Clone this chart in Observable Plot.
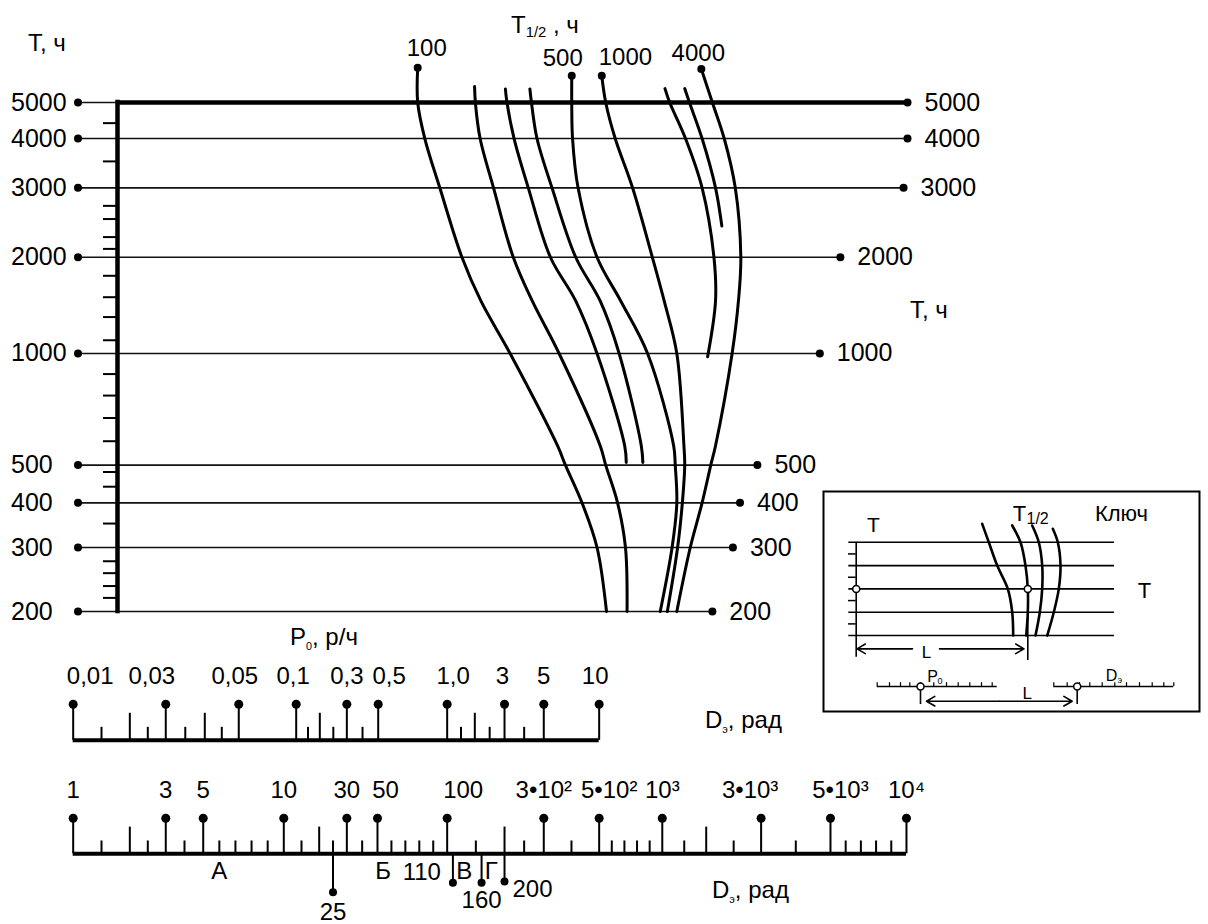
<!DOCTYPE html>
<html>
<head>
<meta charset="utf-8">
<script src="https://cdn.jsdelivr.net/npm/d3@7"></script>
<script src="https://cdn.jsdelivr.net/npm/@observablehq/plot@0.6"></script>
<style>
  body { margin: 0; background: #fff; }
  #wrap { position: relative; width: 1208px; height: 924px; background: #fff; overflow: hidden;
          font-family: Arial, "Liberation Sans", Helvetica, sans-serif; color: #000; }
  #wrap svg { position: absolute; }
  .lab { position: absolute; font-size: 24px; line-height: 1; white-space: nowrap; transform: translateY(-50%); }
  .lab sub { font-size: 62%; vertical-align: -0.3em; line-height: 0; }
  .lab sub.tiny { font-size: 45%; vertical-align: -0.45em; }
</style>
</head>
<body>
<div id="wrap"></div>
<script>
// ===================== DATA =====================
// T scale, hours: the horizontal lines of the nomogram
const tValues = [5000, 4000, 3000, 2000, 1000, 500, 400, 300, 200];
// height of every T line above the 200 line along the T axis, mm (graduation of the T scale)
const tHeightMM = [64.43, 59.87, 53.63, 44.84, 32.66, 18.53, 13.76, 8.10, 0];
// right end of every T line, L in mm measured from the left T axis
const tRightL = [100, 100, 99.5, 91.5, 88.9, 81.0, 78.8, 77.9, 75.3];
// left T scale (dots) lies at this L
const leftScaleL = -5;
// unlabeled graduation marks of the left T axis
const tMinor = [4400, 3500, 2700, 2500, 2250, 2100, 1750, 1500, 1300, 1100, 880, 770, 670, 580, 480, 440, 350, 275, 255, 235, 218];

// T1/2 curves: [T, L] pairs (label "" = unlabeled curve)
const curveLabels = ["100", "", "", "", "500", "1000", "", "", "4000"];
const curve1 = [[6200,38.0],[5000,38.0],[4000,38.9],[3000,40.8],[2000,43.6],[1460,46.0],[1000,49.7],[564,55.7],[500,56.7],[400,58.8],[300,60.7],[200,61.9]];
const curve2 = [[5520,45.2],[5000,45.3],[4000,45.9],[3000,47.6],[2000,50.1],[1460,52.5],[1000,55.9],[564,61.1],[500,61.8],[400,63.3],[300,64.3],[200,64.5]];
const curve3 = [[5440,49.1],[5000,49.3],[4000,50.2],[3000,52.0],[2000,54.8],[1460,58.0],[1000,60.7],[564,64.2],[508,64.4]];
const curve4 = [[5440,52.2],[5000,52.4],[4000,53.1],[3000,55.0],[2000,58.0],[1460,61.1],[1000,63.5],[564,66.3],[508,66.5]];
const curve5 = [[5900,57.5],[5000,57.5],[4000,57.6],[3000,58.3],[2000,60.7],[1460,63.7],[1000,67.1],[564,70.4],[500,70.6],[400,70.8],[300,70.2],[200,68.7]];
const curve6 = [[5900,61.3],[5000,61.8],[4000,63.0],[3000,65.2],[2000,67.7],[1460,69.2],[1000,70.8],[564,71.7],[500,71.8],[400,71.5],[300,70.9],[200,69.6]];
const curve7 = [[5450,69.3],[5000,69.9],[4000,71.9],[3000,74.0],[2000,75.5],[1460,75.7],[980,74.7]];
const curve8 = [[5450,71.8],[5000,72.4],[4000,74.0],[3000,75.7],[2400,76.5]];
const curve9 = [[6150,73.9],[5000,75.3],[4000,76.8],[3000,78.2],[2000,78.9],[1460,78.6],[1000,77.8],[564,75.7],[500,75.1],[400,74.0],[300,72.5],[200,70.8]];

// P0 scale (р/ч): graduation knots and their L
const p0Knots = [0.01, 0.02, 0.03, 0.04, 0.05, 0.1, 0.2, 0.3, 0.5, 1, 2, 3, 5, 10];
const p0KnotL = [-5.61, 1.56, 6.11, 11.05, 15.35, 22.62, 25.61, 29.03, 33.0, 41.73, 45.23, 48.99, 53.96, 60.97];
const p0Major = [0.01, 0.03, 0.05, 0.1, 0.3, 0.5, 1, 3, 5, 10];
const p0MajorLabels = ["0,01", "0,03", "0,05", "0,1", "0,3", "0,5", "1,0", "3", "5", "10"];
const p0Long = [0.02, 0.04, 0.2, 2];
const p0Short = [0.015, 0.025, 0.035, 0.045, 0.15, 0.25, 0.4, 1.5, 2.5, 4];

// Dэ scale (рад)
const dKnots = [1, 2, 3, 5, 10, 20, 30, 50, 100, 200, 300, 500, 1000, 2000, 3000, 5000, 10000];
const dKnotL = [-5.61, 1.56, 6.11, 10.85, 21.05, 25.53, 29.03, 32.91, 41.73, 48.99, 53.96, 60.97, 68.96, 74.52, 81.47, 90.25, 99.87];
const dMajor = [1, 3, 5, 10, 30, 50, 100, 300, 500, 1000, 3000, 5000, 10000];
const dMajorLabels = ["1", "3", "5", "10", "30", "50", "100", "3•10²", "5•10²", "10³", "3•10³", "5•10³", "10⁴"];
const dLong = [2, 20, 200, 2000];
const dShort = [1.5, 2.5, 4, 6, 7, 8, 9, 15, 25, 40, 60, 70, 80, 90, 150, 250, 400, 600, 700, 800, 900, 1500, 2500, 4000, 6000, 7000, 8000, 9000];
const dMarkers = [25, 110, 160, 200];
const dMarkerLabels = ["25", "110", "160", "200"];
const zoneLetters = ["А", "Б", "В", "Г"];
const zoneD = [6, 54, 130, 177];

// Key (schematic): levels of T lines, curves as [x, level]
const keyLevels = [5, 4, 3, 2, 1];
const keyMinor = [4.5, 3.5, 2.5, 1.5];
const keyCurve1 = [[15.97,5.79],[16.63,5],[17.47,4],[18.53,3],[18.97,2],[19.07,1]];
const keyCurve2 = [[18.97,5.72],[19.8,5],[20.3,4],[20.53,3],[20.53,2],[20.37,1]];
const keyCurve3 = [[20.97,5.72],[21.63,5],[21.97,4],[21.97,3],[21.73,2],[21.3,1]];
const keyCurve4 = [[23.03,5.58],[23.53,5],[23.8,4],[23.63,3],[23.13,2],[22.47,1]];
const keyP0Ticks = [5.47, 6.7, 7.8, 8.73, 9.8, 11.13, 12.4, 13.57, 14.73, 15.9, 16.97];
const keyDTicks = [23.13, 24.47, 25.7, 26.73, 27.97, 29.23, 30.4, 31.7, 32.97, 34.13, 35.13];

// ===================== STYLE (label placement) =====================
const FONT = 'Arial, "Liberation Sans", Helvetica, sans-serif';
const baseStyle = {background: "transparent", fontFamily: FONT, overflow: "visible"};
const curveLabelStyle = {
  "100":  {anchor: "middle", dx: 9,  dy: -19},
  "500":  {anchor: "end",    dx: 11, dy: -17},
  "1000": {anchor: "start",  dx: -3, dy: -18},
  "4000": {anchor: "middle", dx: -3, dy: -16}
};
const p0LabelShift = {"0,01": 17, "0,03": -14, "0,05": -4, "0,1": -3, "0,5": 11, "1,0": 6, "3": -2, "10": -4};
const dLabelShift = {"50": 8, "100": 16, "5•10²": 10, "3•10³": -11, "5•10³": 10};
const markerStyle = {
  "25":  {depth: -1.08, anchor: "middle", dx: 0,   dy: 20},
  "110": {depth: -0.81, anchor: "end",    dx: -12, dy: 18.5},
  "160": {depth: -0.81, anchor: "middle", dx: 0,   dy: 18},
  "200": {depth: -0.78, anchor: "start",  dx: 8,   dy: 8}
};

// ===================== DRAWING =====================
const wrap = document.getElementById("wrap");
const place = (svg, left, top) => { svg.style.left = left + "px"; svg.style.top = top + "px"; wrap.appendChild(svg); };

// shared L scale (mm -> page pixels) and T-axis height scale (mm -> page pixels)
const Lscale = Plot.scale({x: {domain: [0, 100], range: [117, 907]}});
const Lpx = (v) => Lscale.apply(v);
const Hscale = Plot.scale({y: {domain: [0, 64.43], range: [611, 102]}});
const Hpx = (v) => Hscale.apply(v);

// ---- main nomogram ----
const tLines = tValues.map((T, i) => ({T, right: tRightL[i], label: String(T)}));
const curves = [curve1, curve2, curve3, curve4, curve5, curve6, curve7, curve8, curve9];
const curveRows = curves.flatMap((c, i) => c.map(([T, L]) => ({id: i, T, L})));
const curveTops = curves.map((c, i) => ({T: c[0][0], L: c[0][1], label: curveLabels[i]})).filter(d => d.label);

const main = Plot.plot({
  width: 1208, height: 640,
  marginLeft: 117, marginRight: 301, marginTop: 102, marginBottom: 29,
  style: baseStyle,
  x: {domain: [0, 100], axis: null},
  y: {type: "log", domain: tValues.slice().reverse(), range: tHeightMM.slice().reverse().map(Hpx), axis: null},
  marks: [
    Plot.ruleY(tLines, {y: "T", x1: leftScaleL, x2: "right", stroke: "#111", strokeWidth: 1.7}),
    Plot.axisY({ticks: tMinor, anchor: "left", tickSize: 14, tickFormat: () => "", label: null, strokeWidth: 2}),
    Plot.ruleY(tLines.filter(d => d.T === 5000), {y: "T", x1: 0, x2: "right", strokeWidth: 4.5}),
    Plot.ruleX([0], {y1: 200, y2: 5000, strokeWidth: 4.5, strokeLinecap: "square"}),
    Plot.line(curveRows, {x: "L", y: "T", z: "id", curve: "catmull-rom", strokeWidth: 3, stroke: "#000"}),
    Plot.dot(tLines, {x: leftScaleL, y: "T", r: 4, fill: "#000"}),
    Plot.dot(tLines, {x: "right", y: "T", r: 4, fill: "#000"}),
    Plot.text(tLines, {x: leftScaleL, y: "T", text: "label", textAnchor: "start", dx: -67, fontSize: 25}),
    Plot.text(tLines, {x: "right", y: "T", text: "label", textAnchor: "start", dx: 17, fontSize: 25}),
    Plot.dot(curveTops, {x: "L", y: "T", r: 4, fill: "#000"}),
    ...curveTops.map(c => {
      const s = curveLabelStyle[c.label];
      return Plot.text([c], {x: "L", y: "T", text: "label", textAnchor: s.anchor, dx: s.dx, dy: s.dy, fontSize: 24});
    })
  ]
});
place(main, 0, 0);

// ---- P0 scale ----
const SHORT = 0.36, LONG = 0.75;
const p0Rows = p0Major.map((v, i) => ({v, label: p0MajorLabels[i], shift: p0LabelShift[p0MajorLabels[i]] || 0}));
const p0Plot = Plot.plot({
  width: 1208, height: 140,
  style: baseStyle,
  x: {type: "linear", domain: p0Knots, range: p0KnotL.map(Lpx), axis: null},
  y: {domain: [0, 1], range: [119.8, 83.8], axis: null},
  marks: [
    Plot.ruleY([0], {x1: p0Knots[0], x2: p0Knots[p0Knots.length - 1], strokeWidth: 4}),
    Plot.ruleX(p0Short, {x: d => d, y1: 0, y2: SHORT, strokeWidth: 2}),
    Plot.ruleX(p0Long, {x: d => d, y1: 0, y2: LONG, strokeWidth: 2}),
    Plot.ruleX(p0Rows, {x: "v", y1: 0, y2: 1, strokeWidth: 2}),
    Plot.dot(p0Rows, {x: "v", y: 1, r: 4.5, fill: "#000"}),
    ...p0Rows.map(r => Plot.text([r], {x: "v", y: 1, text: "label", dx: r.shift, dy: -28, fontSize: 24}))
  ]
});
place(p0Plot, 0, 620);

// ---- D scale ----
const dRows = dMajor.map((v, i) => ({v, label: dMajorLabels[i], shift: dLabelShift[dMajorLabels[i]] || 0}));
const markerRows = dMarkers.map((v, i) => ({v, label: dMarkerLabels[i], ...markerStyle[dMarkerLabels[i]]}));
const zoneRows = zoneLetters.map((t, i) => ({t, v: zoneD[i]}));
const dPlot = Plot.plot({
  width: 1208, height: 164,
  style: baseStyle,
  x: {type: "linear", domain: dKnots, range: dKnotL.map(Lpx), axis: null},
  y: {domain: [0, 1], range: [93.3, 57.7], axis: null},
  marks: [
    Plot.ruleY([0], {x1: dKnots[0], x2: dKnots[dKnots.length - 1], strokeWidth: 4}),
    Plot.ruleX(dShort, {x: d => d, y1: 0, y2: SHORT, strokeWidth: 2}),
    Plot.ruleX(dLong, {x: d => d, y1: 0, y2: LONG, strokeWidth: 2}),
    Plot.ruleX(dRows, {x: "v", y1: 0, y2: 1, strokeWidth: 2}),
    Plot.dot(dRows, {x: "v", y: 1, r: 4.5, fill: "#000"}),
    ...dRows.map(r => Plot.text([r], {x: "v", y: 1, text: "label", dx: r.shift, dy: -28, fontSize: 24})),
    Plot.ruleX(markerRows, {x: "v", y1: 0, y2: "depth", strokeWidth: 2}),
    Plot.dot(markerRows, {x: "v", y: "depth", r: 4, fill: "#000"}),
    ...markerRows.map(m => Plot.text([m], {x: "v", y: m.anchor === "end" ? 0 : "depth", text: "label",
        textAnchor: m.anchor, dx: m.dx, dy: m.dy, fontSize: 24})),
    Plot.text(zoneRows, {x: "v", y: 0, text: "t", dy: 18, fontSize: 24})
  ]
});
place(dPlot, 0, 760);

// ---- Key ----
const keyCurveRows = [keyCurve1, keyCurve2, keyCurve3, keyCurve4].flatMap((c, i) => c.map(([x, y]) => ({id: i, x, y})));
const keyAxisX = 3.37, keyCross = 20.53, keyScaleY = -1.19;
const keyArrows = [
  {x1: 9.0, x2: 3.45, y: 0.43}, {x1: 11.7, x2: 20.15, y: 0.43},
  {x1: 17.7, x2: 10.4, y: -1.815}, {x1: 17.7, x2: 24.97, y: -1.815}
];
const keyPlot = Plot.plot({
  width: 378, height: 222, margin: 0,
  style: baseStyle,
  x: {domain: [0, 37.8], axis: null},
  y: {domain: [-2.30, 7.22], axis: null},
  marks: [
    Plot.frame({strokeWidth: 2, inset: 1, stroke: "#000"}),
    Plot.ruleY(keyLevels, {y: d => d, x1: 2.63, x2: 29.2, strokeWidth: 1.6}),
    Plot.ruleX([keyAxisX], {y1: 0.07, y2: 5, strokeWidth: 1.6}),
    Plot.ruleY(keyMinor, {y: d => d, x1: 2.6, x2: keyAxisX, strokeWidth: 1.5}),
    Plot.line(keyCurveRows, {x: "x", y: "y", z: "id", curve: "catmull-rom", strokeWidth: 2.6}),
    Plot.ruleX([keyCross], {y1: 3, y2: -0.07, strokeWidth: 1.6}),
    Plot.arrow(keyArrows, {x1: "x1", x2: "x2", y1: "y", y2: "y", headLength: 9, strokeWidth: 1.6}),
    Plot.ruleY([keyScaleY], {x1: keyP0Ticks[0], x2: 17.47, strokeWidth: 1.5}),
    Plot.ruleY([keyScaleY], {x1: keyDTicks[0], x2: keyDTicks[keyDTicks.length - 1], strokeWidth: 1.5}),
    Plot.ruleX(keyP0Ticks.concat(keyDTicks), {x: d => d, y1: keyScaleY, y2: keyScaleY + 0.17, strokeWidth: 1.2}),
    Plot.ruleX([9.8, 25.47], {x: d => d, y1: keyScaleY, y2: -1.96, strokeWidth: 1.6}),
    Plot.dot([[keyAxisX, 3], [keyCross, 3], [9.8, keyScaleY], [25.47, keyScaleY]], {x: "0", y: "1", r: 3.5, fill: "#fff", stroke: "#000", strokeWidth: 1.5}),
    Plot.text(["T"], {x: 5.1, y: 5.72, text: d => d, fontSize: 21}),
    Plot.text(["T"], {x: 19.7, y: 6.23, text: d => d, fontSize: 22}),
    Plot.text(["1/2"], {x: 19.7, y: 6.23, text: d => d, fontSize: 16, textAnchor: "start", dx: 7, dy: 5}),
    Plot.text(["Ключ"], {x: 29.9, y: 6.23, text: d => d, fontSize: 22}),
    Plot.text(["T"], {x: 32.2, y: 2.93, text: d => d, fontSize: 22}),
    Plot.text(["L"], {x: 10.4, y: 0.25, text: d => d, fontSize: 17}),
    Plot.text(["L"], {x: 20.47, y: -1.5, text: d => d, fontSize: 17}),
    Plot.text(["P"], {x: 11.0, y: -0.79, text: d => d, fontSize: 16}),
    Plot.text(["0"], {x: 11.0, y: -0.79, text: d => d, fontSize: 9, textAnchor: "start", dx: 5, dy: 4}),
    Plot.text(["D"], {x: 28.9, y: -0.72, text: d => d, fontSize: 16}),
    Plot.text(["э"], {x: 28.9, y: -0.72, text: d => d, fontSize: 9, textAnchor: "start", dx: 6, dy: 4})
  ]
});
place(keyPlot, 822, 490);

// ---- axis titles (HTML text) ----
const titles = [
  {html: "T, ч", left: 28, top: 43},
  {html: "T<sub>1/2</sub> , ч", left: 511, top: 25},
  {html: "T, ч", left: 910, top: 310},
  {html: "P<sub class='tiny'>0</sub>, р/ч", left: 290, top: 637},
  {html: "D<sub class='tiny'>э</sub>, рад", left: 705, top: 720},
  {html: "D<sub class='tiny'>э</sub>, рад", left: 712, top: 890}
];
for (const t of titles) {
  const div = document.createElement("div");
  div.className = "lab";
  div.innerHTML = t.html;
  div.style.left = t.left + "px";
  div.style.top = t.top + "px";
  wrap.appendChild(div);
}
</script>
</body>
</html>
